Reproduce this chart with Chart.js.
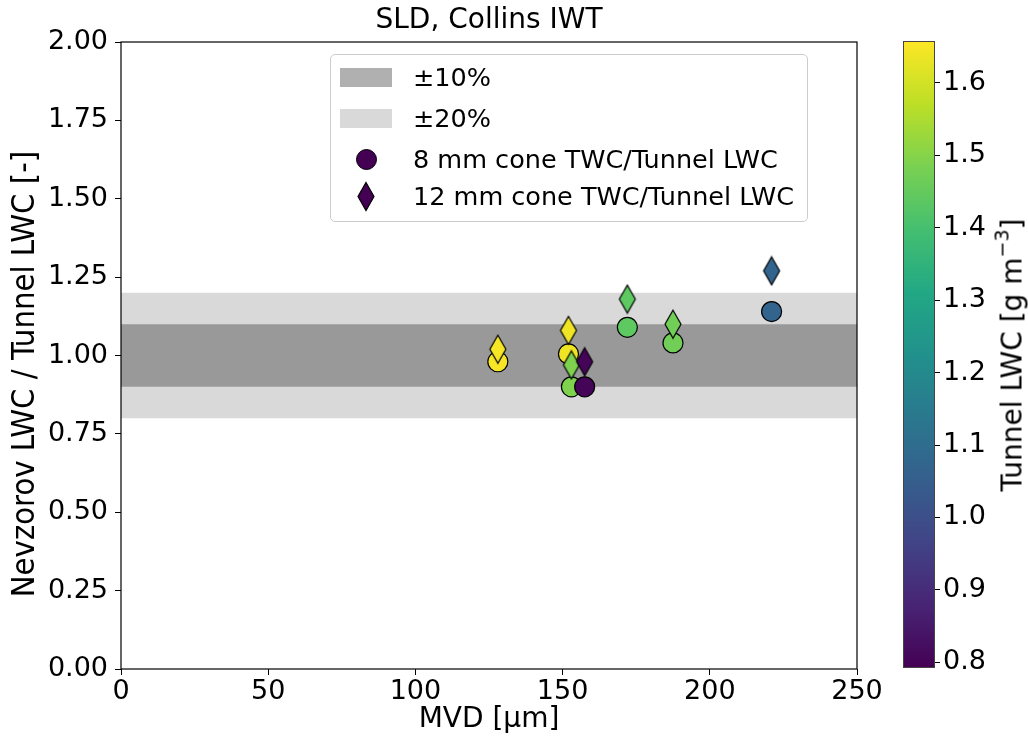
<!DOCTYPE html>
<html>
<head>
<meta charset="utf-8">
<script src="https://cdn.jsdelivr.net/npm/chart.js@4.4.1/dist/chart.umd.min.js"></script>
<style>
  html, body { margin: 0; padding: 0; background: #fff; }
  body { width: 1028px; height: 745px; position: relative; overflow: hidden; font-family: "DejaVu Sans", sans-serif; color: #000; }
  #main { position: absolute; left: 0; top: 0; }
  #cbar { position: absolute; left: 895px; top: 0; }
  #legend { position: absolute; left: 330px; top: 54px; width: 476px; height: 166px; border: 1px solid #cccccc; border-radius: 5px; background: rgba(255,255,255,0.8); }
  .row { position: absolute; left: 0; height: 36px; display: flex; align-items: center; }
  .key { width: 52px; margin-left: 9px; display: flex; justify-content: center; align-items: center; }
  .lab { margin-left: 21px; font-size: 25.5px; white-space: nowrap; }
  .patch { width: 52px; height: 19px; }
  .dot { width: 19px; height: 19px; border-radius: 50%; border: 1.2px solid #000; background: #440154; }
  #cbLabel { position: absolute; left: 1012px; top: 355px; transform: translate(-50%, -50%) rotate(-90deg); font-size: 28px; white-space: nowrap; }
  #cbLabel sup { font-size: 19px; vertical-align: 13px; line-height: 0; }
</style>
</head>
<body>
<canvas id="main" width="1028" height="745"></canvas>
<canvas id="cbar" width="133" height="745"></canvas>

<div id="legend">
  <div class="row" style="top:4px"><div class="key"><div class="patch" style="background:#b0b0b0"></div></div><div class="lab">±10%</div></div>
  <div class="row" style="top:45px"><div class="key"><div class="patch" style="background:#d9d9d9"></div></div><div class="lab">±20%</div></div>
  <div class="row" style="top:86px"><div class="key"><div class="dot"></div></div><div class="lab">8 mm cone TWC/Tunnel LWC</div></div>
  <div class="row" style="top:123px"><div class="key" id="legDiamond"></div><div class="lab">12 mm cone TWC/Tunnel LWC</div></div>
</div>
<div id="cbLabel">Tunnel LWC [g m<sup>−3</sup>]</div>

<script>
// values
const mvd = [128, 152, 153, 157.5, 172, 187.5, 221];
const ratio8mm = [0.98, 1.005, 0.90, 0.90, 1.09, 1.04, 1.14];
const ratio12mm = [1.02, 1.08, 0.97, 0.98, 1.18, 1.10, 1.27];
const tunnelLwc = [1.65, 1.64, 1.49, 0.80, 1.44, 1.47, 1.07];

const xTicks = [0, 50, 100, 150, 200, 250];
const yTicks = [0, 0.25, 0.5, 0.75, 1.0, 1.25, 1.5, 1.75, 2.0];
const cbarTicks = [0.8, 0.9, 1.0, 1.1, 1.2, 1.3, 1.4, 1.5, 1.6];
const band10 = [0.9, 1.1];
const band20 = [0.8, 1.2];
const lwcRange = [0.792, 1.658];

const viridis = ['#440154', '#482475', '#414487', '#355f8d', '#2a788e', '#21918c',
                 '#22a884', '#44bf70', '#7ad151', '#bddf26', '#fde725'];

function hexRgb(h) {
  return [1, 3, 5].map(i => parseInt(h.slice(i, i + 2), 16));
}

function viridisAt(t) {
  t = Math.min(1, Math.max(0, t));
  const p = t * (viridis.length - 1);
  const i = Math.min(Math.floor(p), viridis.length - 2);
  const f = p - i;
  const a = hexRgb(viridis[i]), b = hexRgb(viridis[i + 1]);
  return 'rgb(' + a.map((v, k) => Math.round(v + (b[k] - v) * f)).join(',') + ')';
}

function lwcColor(v) {
  return viridisAt((v - lwcRange[0]) / (lwcRange[1] - lwcRange[0]));
}

// thin diamond marker, like matplotlib's 'd'
function diamondCanvas(fill) {
  const c = document.createElement('canvas');
  c.width = 20; c.height = 31;
  const g = c.getContext('2d');
  g.beginPath();
  g.moveTo(10, 1.5); g.lineTo(18, 15.5); g.lineTo(10, 29.5); g.lineTo(2, 15.5);
  g.closePath();
  g.fillStyle = fill; g.fill();
  g.lineWidth = 1.2; g.strokeStyle = '#000'; g.stroke();
  return c;
}

document.getElementById('legDiamond').appendChild(diamondCanvas('#440154'));

Chart.defaults.font.family = '"DejaVu Sans", sans-serif';
Chart.defaults.color = '#000';

const frame = {
  id: 'frame',
  afterDatasetsDraw(chart) {
    const { ctx, chartArea: a } = chart;
    ctx.save();
    ctx.strokeStyle = '#000';
    ctx.lineWidth = 1.2;
    ctx.strokeRect(a.left, a.top, a.right - a.left, a.bottom - a.top);
    ctx.restore();
  }
};

const xRange = [xTicks[0], xTicks[xTicks.length - 1]];
const bandLine = (y, fill, color) => ({
  type: 'line',
  data: xRange.map(x => ({ x, y })),
  fill: fill,
  backgroundColor: color,
  borderColor: 'rgba(0,0,0,0)',
  borderWidth: 0,
  pointRadius: 0
});

const diamonds = tunnelLwc.map(v => diamondCanvas(lwcColor(v)));

new Chart(document.getElementById('main'), {
  type: 'scatter',
  data: {
    datasets: [
      {
        label: '12 mm cone TWC/Tunnel LWC',
        data: mvd.map((x, i) => ({ x, y: ratio12mm[i] })),
        pointStyle: ctx => diamonds[ctx.dataIndex],
        pointRadius: 10
      },
      {
        label: '8 mm cone TWC/Tunnel LWC',
        data: mvd.map((x, i) => ({ x, y: ratio8mm[i] })),
        pointStyle: 'circle',
        pointRadius: 10,
        backgroundColor: tunnelLwc.map(lwcColor),
        borderColor: '#000',
        borderWidth: 1.2
      },
      bandLine(band10[1], '+1', '#999999'),
      bandLine(band10[0], false, '#999999'),
      bandLine(band20[1], '+1', '#d9d9d9'),
      bandLine(band20[0], false, '#d9d9d9')
    ]
  },
  options: {
    responsive: false,
    animation: false,
    events: [],
    layout: { padding: { left: 0, top: 0, right: 171, bottom: 0 } },
    plugins: {
      legend: { display: false },
      tooltip: { enabled: false },
      title: {
        display: true,
        text: 'SLD, Collins IWT',
        fullSize: false,
        font: { size: 28, weight: 'normal' },
        color: '#000',
        padding: { top: 4, bottom: 4.4 }
      }
    },
    scales: {
      x: {
        type: 'linear',
        min: xRange[0],
        max: xRange[1],
        afterBuildTicks: s => { s.ticks = xTicks.map(v => ({ value: v })); },
        ticks: { callback: v => String(v), font: { size: 27 }, color: '#000', padding: 1, maxRotation: 0 },
        grid: { drawOnChartArea: false, tickLength: 6, color: '#000' },
        border: { display: false },
        title: { display: true, text: 'MVD [µm]', font: { size: 28 }, color: '#000', padding: { top: 0, bottom: 8 } },
        afterFit: s => { s.height = 76; }
      },
      y: {
        min: yTicks[0],
        max: yTicks[yTicks.length - 1],
        afterBuildTicks: s => { s.ticks = yTicks.map(v => ({ value: v })); },
        ticks: { callback: v => v.toFixed(2), font: { size: 27 }, color: '#000', padding: 7 },
        grid: { drawOnChartArea: false, tickLength: 6, color: '#000' },
        border: { display: false },
        title: {
          display: true,
          // trailing spaces nudge the label down like the original
          text: 'Nevzorov LWC / Tunnel LWC [-]    ',
          font: { family: '"DejaVu Sans Condensed", "DejaVu Sans", sans-serif', size: 32.5 },
          color: '#000',
          padding: { top: 6, bottom: 0 }
        },
        afterFit: s => { s.width = 121; }
      }
    }
  },
  plugins: [frame]
});

// colorbar
const cbGradient = {
  id: 'cbGradient',
  beforeDatasetsDraw(chart) {
    const { ctx, chartArea: a, scales: { y } } = chart;
    const g = ctx.createLinearGradient(0, y.getPixelForValue(lwcRange[0]), 0, y.getPixelForValue(lwcRange[1]));
    viridis.forEach((c, i) => g.addColorStop(i / (viridis.length - 1), c));
    ctx.save();
    ctx.fillStyle = g;
    ctx.fillRect(a.left, a.top, a.right - a.left, a.bottom - a.top);
    ctx.strokeStyle = '#444';
    ctx.lineWidth = 1;
    ctx.strokeRect(a.left + 0.5, a.top + 0.5, a.right - a.left - 1, a.bottom - a.top - 1);
    ctx.restore();
  }
};

new Chart(document.getElementById('cbar'), {
  type: 'scatter',
  data: { datasets: [] },
  options: {
    responsive: false,
    animation: false,
    events: [],
    layout: { padding: { left: 8, top: 41, right: 0, bottom: 77 } },
    plugins: { legend: { display: false }, tooltip: { enabled: false } },
    scales: {
      x: { display: false, min: 0, max: 1 },
      y: {
        position: 'right',
        min: lwcRange[0],
        max: lwcRange[1],
        afterBuildTicks: s => { s.ticks = cbarTicks.map(v => ({ value: v })); },
        ticks: { callback: v => v.toFixed(1), font: { size: 27 }, color: '#000', padding: 3 },
        grid: { drawOnChartArea: false, tickLength: 5, color: '#000' },
        border: { display: false },
        afterFit: s => { s.width = 93; }
      }
    }
  },
  plugins: [cbGradient]
});
</script>
</body>
</html>
